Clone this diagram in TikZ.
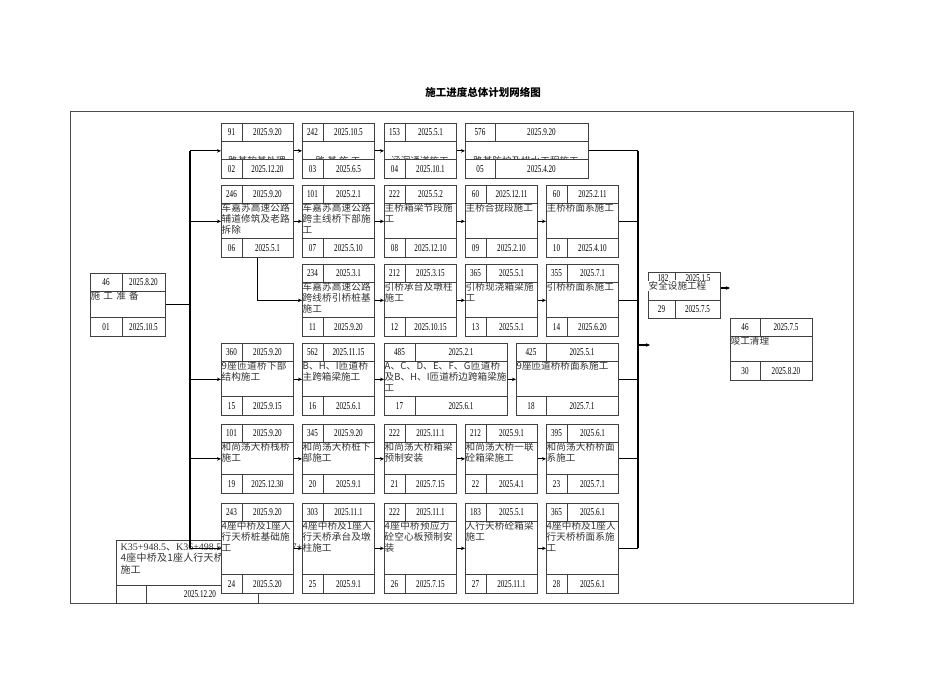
\documentclass[tikz,border=0pt]{standalone}
\usepackage{fontspec}
\setmainfont{Liberation Serif}
\newfontfamily\cjk{Noto Sans CJK SC}
\XeTeXlinebreaklocale "zh"
\XeTeXlinebreakskip=0pt plus 1pt
\usetikzlibrary{arrows.meta}
\tikzset{
 boxo/.style={draw=black!75,line width=0.7pt,fill=white,inner sep=0pt},
 numf/.style={inner sep=0pt,font=\fontsize{10.5}{10}\selectfont\addfontfeature{FakeStretch=0.68}},
 mtxt/.style={inner sep=0.5pt,anchor=north west,align=left,font=\cjk\fontsize{9.6}{11}\selectfont,text=black!80},
 conn/.style={line width=1.2pt},
 arr/.style={line width=1.2pt,-{Stealth[length=4pt,width=3.5pt]}},
}
% name,x,y,w,h,split,dur,start,text
\newcommand\abox[9]{%
 \node[boxo,minimum width=#4pt,minimum height=#5pt,anchor=north west] (#1) at (#2,#3) {};
 \draw[black!75,line width=0.7pt] ([yshift=-18pt]#1.north west) -- ([yshift=-18pt]#1.north east);
 \draw[black!75,line width=0.7pt] ([xshift=#6pt]#1.north west) -- ++(0pt,-18pt);
 \node[numf] at ([xshift={#6pt/2},yshift=-9pt]#1.north west) {#7};
 \node[numf] at ([xshift={(#6pt+#4pt)/2},yshift=-9pt]#1.north west) {#8};
 \node[mtxt,text width={#4pt-1pt}] at ([yshift=-18pt]#1.north west) {#9};
}
% name,w,split,id,end
\newcommand\abot[5]{%
 \fill[white] ([yshift=19pt]#1.south west) rectangle (#1.south east);
 \draw[black!75,line width=0.7pt] ([yshift=19pt]#1.south west) rectangle (#1.south east);
 \draw[black!75,line width=0.7pt] ([xshift=#3pt]#1.south west) -- ++(0pt,19pt);
 \node[numf] at ([xshift={#3pt/2},yshift=9.5pt]#1.south west) {#4};
 \node[numf] at ([xshift={(#3pt+#2pt)/2},yshift=9.5pt]#1.south west) {#5};
}
\begin{document}
\begin{tikzpicture}[x=1pt,y=-1pt]
\useasboundingbox (0,0) rectangle (950,672);
\fill[white] (0,0) rectangle (950,672);
\draw[black!70,line width=0.8pt] (70,111) rectangle (853,603);
\node[font=\cjk\bfseries\fontsize{10.5}{12}\selectfont] (title) at (483,92) {施工进度总体计划网络图};

% bottom-left overlapped box
\node[draw=black!75,line width=0.7pt,minimum width=142pt,minimum height=63pt,anchor=north west,inner sep=0pt] (bl) at (116,540) {};
\node[mtxt,text width=138pt,font=\fontsize{10}{11.5}\selectfont] at (120,543) {K35+948.5{\cjk、}K36+498.5{\cjk、}K36+900{\cjk、}K37+895{\cjk，4座中桥及1座人行天桥桩基础施工}};
\draw[black!75,line width=0.7pt] (116,585) -- (258,585) (146,585) -- (146,603);
\node[numf] at (200,594) {2025.12.20};

% row 1
\abox{a02}{221}{123}{72}{55}{21}{91}{2025.9.20}{}
\node[font=\cjk\fontsize{9.6}{10}\selectfont,text=black!80] at (257,161) {路基软基处理};
\abot{a02}{72}{21}{02}{2025.12.20}
\abox{a03}{302}{123}{72}{55}{21}{242}{2025.10.5}{}
\node[font=\cjk\fontsize{9.6}{10}\selectfont,text=black!80] at (338,161) {路\ 基\ 施\ 工};
\abot{a03}{72}{21}{03}{2025.6.5}
\abox{a04}{384}{123}{72}{55}{21}{153}{2025.5.1}{}
\node[font=\cjk\fontsize{9.6}{10}\selectfont,text=black!80] at (420,161) {涵洞通道施工};
\abot{a04}{72}{21}{04}{2025.10.1}
\abox{a05}{465}{123}{123}{55}{30}{576}{2025.9.20}{}
\node[font=\cjk\fontsize{9.6}{10}\selectfont,text=black!80] at (526,161) {路基防护及排水工程施工};
\abot{a05}{123}{30}{05}{2025.4.20}

% row 2
\abox{a06}{221}{185}{72}{72}{21}{246}{2025.9.20}{车嘉苏高速公路辅道修筑及老路拆除}
\abot{a06}{72}{21}{06}{2025.5.1}
\abox{a07}{302}{185}{72}{72}{21}{101}{2025.2.1}{\centering 车嘉苏高速公路跨主线桥下部施工}
\abot{a07}{72}{21}{07}{2025.5.10}
\abox{a08}{384}{185}{72}{72}{21}{222}{2025.5.2}{\centering 主桥箱梁节段施工}
\abot{a08}{72}{21}{08}{2025.12.10}
\abox{a09}{465}{185}{72}{72}{21}{60}{2025.12.11}{\centering 主桥合拢段施工}
\abot{a09}{72}{21}{09}{2025.2.10}
\abox{a10}{546}{185}{72}{72}{21}{60}{2025.2.11}{\centering 主桥桥面系施工}
\abot{a10}{72}{21}{10}{2025.4.10}

% row 3
\abox{a11}{302}{264}{72}{72}{21}{234}{2025.3.1}{车嘉苏高速公路跨线桥引桥桩基施工}
\abot{a11}{72}{21}{11}{2025.9.20}
\abox{a12}{384}{264}{72}{72}{21}{212}{2025.3.15}{引桥承台及墩柱施工}
\abot{a12}{72}{21}{12}{2025.10.15}
\abox{a13}{465}{264}{72}{72}{21}{365}{2025.5.1}{引桥现浇箱梁施工}
\abot{a13}{72}{21}{13}{2025.5.1}
\abox{a14}{546}{264}{72}{72}{21}{355}{2025.7.1}{\centering 引桥桥面系施工}
\abot{a14}{72}{21}{14}{2025.6.20}

% row 4
\abox{a15}{221}{343}{72}{72}{21}{360}{2025.9.20}{9座匝道桥下部结构施工}
\abot{a15}{72}{21}{15}{2025.9.15}
\abox{a16}{302}{343}{72}{72}{21}{562}{2025.11.15}{B{\cjk、}H{\cjk、}I{\cjk 匝道桥主跨箱梁施工}}
\abot{a16}{72}{21}{16}{2025.6.1}
\abox{a17}{384}{343}{123}{72}{31}{485}{2025.2.1}{A{\cjk、}C{\cjk、}D{\cjk、}E{\cjk、}F{\cjk、}G{\cjk 匝道桥及}B{\cjk、}H{\cjk、}I{\cjk 匝道桥边跨箱梁施工}}
\abot{a17}{123}{31}{17}{2025.6.1}
\abox{a18}{516}{343}{102}{72}{30}{425}{2025.5.1}{9座匝道桥桥面系施工}
\abot{a18}{102}{30}{18}{2025.7.1}

% row 5
\abox{a19}{221}{424}{72}{69}{21}{101}{2025.9.20}{和尚荡大桥栈桥施工}
\abot{a19}{72}{21}{19}{2025.12.30}
\abox{a20}{302}{424}{72}{69}{21}{345}{2025.9.20}{和尚荡大桥桩下部施工}
\abot{a20}{72}{21}{20}{2025.9.1}
\abox{a21}{384}{424}{72}{69}{21}{222}{2025.11.1}{和尚荡大桥箱梁预制安装}
\abot{a21}{72}{21}{21}{2025.7.15}
\abox{a22}{465}{424}{72}{69}{21}{212}{2025.9.1}{和尚荡大桥一联砼箱梁施工}
\abot{a22}{72}{21}{22}{2025.4.1}
\abox{a23}{546}{424}{72}{69}{21}{395}{2025.6.1}{和尚荡大桥桥面系施工}
\abot{a23}{72}{21}{23}{2025.7.1}

% row 6
\abox{a24}{221}{503}{72}{90}{21}{243}{2025.9.20}{4座中桥及1座人行天桥桩基础施工}
\abot{a24}{72}{21}{24}{2025.5.20}
\abox{a25}{302}{503}{72}{90}{21}{303}{2025.11.1}{4座中桥及1座人行天桥承台及墩柱施工}
\abot{a25}{72}{21}{25}{2025.9.1}
\abox{a26}{384}{503}{72}{90}{21}{222}{2025.11.1}{4座中桥预应力砼空心板预制安装}
\abot{a26}{72}{21}{26}{2025.7.15}
\abox{a27}{465}{503}{72}{90}{21}{183}{2025.5.1}{人行天桥砼箱梁施工}
\abot{a27}{72}{21}{27}{2025.11.1}
\abox{a28}{546}{503}{72}{90}{21}{365}{2025.6.1}{4座中桥及1座人行天桥桥面系施工}
\abot{a28}{72}{21}{28}{2025.6.1}

% start / end boxes
\abox{a01}{90}{273}{75}{63}{32}{46}{2025.8.20}{\centering 施\ 工\ 准\ 备}
\abot{a01}{75}{32}{01}{2025.10.5}
\node[boxo,minimum width=72pt,minimum height=46pt,anchor=north west] (a29) at (648,272) {};
\node[numf] at (663,278) {182};
\node[numf] at (698,278) {2025.1.5};
\draw[black!75,line width=0.7pt] (675,272) -- (675,280);
\node[mtxt,text width=71pt,fill=white] at (648,281) {安全设施工程};
\draw[black!75,line width=0.7pt] (648,300) -- (720,300) (675,300) -- (675,318);
\node[numf] at (661.5,309) {29};
\node[numf] at (697.5,309) {2025.7.5};
\abox{a30}{730}{318}{82}{62}{30}{46}{2025.7.5}{\centering 竣工清理}
\abot{a30}{82}{30}{30}{2025.8.20}

% connectors
\coordinate (bl1) at (190,0);
\coordinate (br1) at (638,0);
\draw[conn] (a01.east) -- (a01.east -| bl1);
\draw[conn] (a02.west -| bl1) -- (a24.west -| bl1);
\foreach \t in {a02,a06,a15,a19,a24} \draw[arr] (\t.west -| bl1) -- (\t.west);
\draw[arr] (a06.south) |- (a11.west);
\draw[arr] (a02) -- (a03); \draw[arr] (a03) -- (a04); \draw[arr] (a04) -- (a05);
\draw[arr] (a06) -- (a07); \draw[arr] (a07) -- (a08); \draw[arr] (a08) -- (a09); \draw[arr] (a09) -- (a10);
\draw[arr] (a11) -- (a12); \draw[arr] (a12) -- (a13); \draw[arr] (a13) -- (a14);
\draw[arr] (a15) -- (a16); \draw[arr] (a16) -- (a17); \draw[arr] (a17) -- (a18);
\draw[arr] (a19) -- (a20); \draw[arr] (a20) -- (a21); \draw[arr] (a21) -- (a22); \draw[arr] (a22) -- (a23);
\draw[arr] (a24) -- (a25); \draw[arr] (a25) -- (a26); \draw[arr] (a26) -- (a27); \draw[arr] (a27) -- (a28);
\draw[conn] (a05.east -| br1) -- (a28.east -| br1);
\foreach \t in {a05,a10,a14,a18,a23,a28} \draw[conn] (\t.east) -- (\t.east -| br1);
\coordinate (bo) at (650,345);
\draw[arr] (bo -| br1) -- (bo);
\coordinate (ao) at (730,288);
\draw[arr] (a29.east |- ao) -- (ao);
\end{tikzpicture}
\end{document}
